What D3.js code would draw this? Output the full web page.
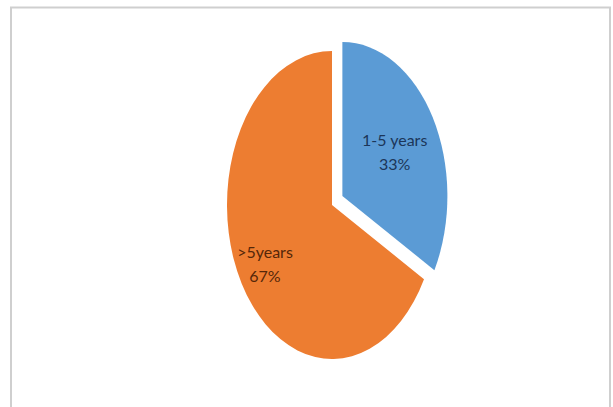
<!DOCTYPE html>
<html>
<head>
<meta charset="utf-8">
<script src="https://cdn.jsdelivr.net/npm/d3@7"></script>
<style>
  html, body { margin: 0; padding: 0; background: #ffffff; }
  svg { display: block; }
</style>
</head>
<body>
<svg id="chart" width="613" height="407"></svg>
<script>
// Share of respondents by years of experience
const categories = ["1-5 years", ">5years"];
const shares = [33, 67];
const sliceColors = ["#5b9bd5", "#ed7d31"];
const labelColors = ["#1c3659", "#552709"];
const explodedSlices = [true, false];

const svg = d3.select("#chart");

// chart area frame (bottom edge runs past the canvas)
svg.append("path")
  .attr("d", "M11,412 L11,7.5 L610,7.5 L610,412")
  .attr("fill", "none")
  .attr("stroke", "#cfcfcf")
  .attr("stroke-width", 2);

// pie is drawn on a unit circle then stretched into an upright ellipse
const R = 100;
const cx = 332, cy = 205, rx = 105, ry = 154;
const sx = rx / R, sy = ry / R;
const explode = 0.115 * R;

const data = categories.map((c, i) => ({
  category: c, value: shares[i], color: sliceColors[i],
  labelColor: labelColors[i], exploded: explodedSlices[i]
}));

const pie = d3.pie().value(d => d.value).sort(null);
const arcs = pie(data);
const arc = d3.arc().innerRadius(0).outerRadius(R);

function offsetOf(a) {
  if (!a.data.exploded) return [0, 0];
  const mid = (a.startAngle + a.endAngle) / 2;
  return [Math.sin(mid) * explode, -Math.cos(mid) * explode];
}

const g = svg.append("g")
  .attr("transform", `translate(${cx},${cy}) scale(${sx},${sy})`);

g.selectAll("path.slice")
  .data(arcs)
  .enter().append("path")
  .attr("class", "slice")
  .attr("d", arc)
  .attr("fill", d => d.data.color)
  .attr("transform", d => {
    const [ox, oy] = offsetOf(d);
    return `translate(${ox},${oy})`;
  });

// labels: larger slices carry their label further out from the centre
const total = d3.sum(shares);
const labels = svg.append("g");
arcs.forEach(a => {
  const frac = a.data.value / total;
  const lr = R * (0.42 + 0.48 * frac);
  const mid = (a.startAngle + a.endAngle) / 2;
  const [ox, oy] = offsetOf(a);
  const px = cx + (ox + Math.sin(mid) * lr) * sx;
  const py = cy + (oy - Math.cos(mid) * lr) * sy;
  const t = labels.append("text")
    .attr("x", px)
    .attr("y", py)
    .attr("text-anchor", "middle")
    .attr("fill", a.data.labelColor)
    .style("font-family", "Lato, 'Open Sans', 'DejaVu Sans', sans-serif")
    .style("font-size", "16px");
  t.append("tspan").attr("x", px).attr("dy", "-0.3em").text(a.data.category);
  t.append("tspan").attr("x", px).attr("dy", "1.5em").text(a.data.value + "%");
});
</script>
</body>
</html>
